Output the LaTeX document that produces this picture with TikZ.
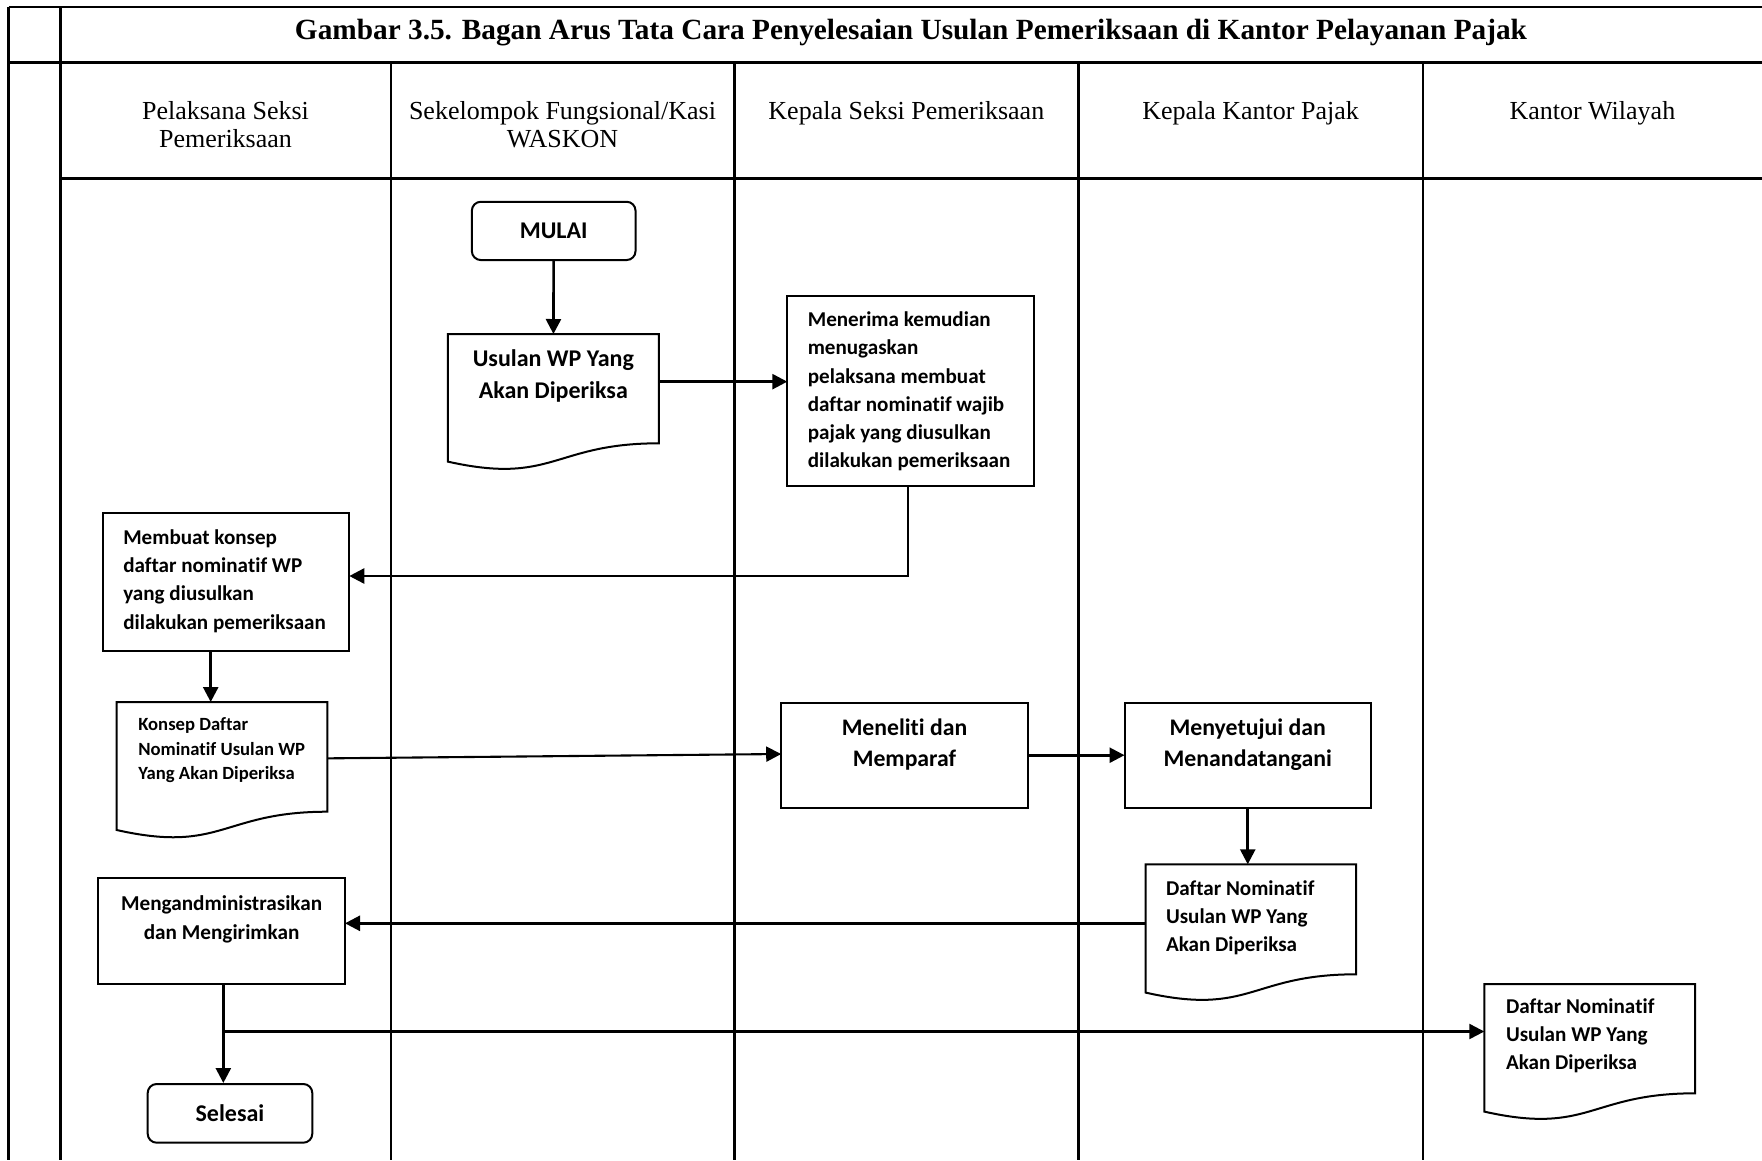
\documentclass[tikz,border=0pt]{standalone}
\usepackage{fontspec}
\setmainfont{Liberation Serif}
\newfontfamily\carlito{Carlito}[Ligatures=NoCommon]
\usetikzlibrary{arrows.meta,calc}

% box content: width, height, first baseline, size, leading, text (centred)
\newcommand\flowc[6]{\parbox[c][#2pt][t]{#1pt}{\fontsize{#4pt}{#5pt}\selectfont\centering\rule{0pt}{#3pt}#6\par}}
% box content: width, height, first baseline, left pad, size, leading, text (left)
\newcommand\flowl[7]{\parbox[c][#2pt][t]{#1pt}{\fontsize{#5pt}{#6pt}\selectfont\raggedright\leftskip=#4pt\rule{0pt}{#3pt}#7\par}}
% lane heading text
\newcommand\headtext[1]{\parbox[t]{320pt}{\fontsize{26pt}{28.7pt}\selectfont\centering #1\par}}
% document symbol drawn round a node
\newcommand\docoutline[1]{\draw[boxline] (#1.north west) -- (#1.north east) -- (#1.south east)
  .. controls (#1.south) and ([yshift=-42pt]#1.south) .. ([yshift=-18.3pt]#1.south west) -- cycle;}

\begin{document}
\begin{tikzpicture}[x=1pt,y=-1pt,
  frame/.style={line width=2.4pt},
  boxline/.style={line width=2pt},
  flowbox/.style={rectangle,draw,boxline,inner sep=0pt,outer sep=0pt,font=\carlito\bfseries},
  docnode/.style={rectangle,inner sep=0pt,outer sep=0pt,font=\carlito\bfseries},
  terminal/.style={rectangle,draw,boxline,rounded corners=9pt,inner sep=0pt,
    font={\carlito\bfseries\fontsize{24pt}{28pt}\selectfont}},
  arr/.style={line width=2.6pt,-{Triangle[length=15pt,width=15pt]}},
  thinarr/.style={line width=2.1pt,-{Triangle[length=15pt,width=15pt]}},
  lanehead/.style={inner sep=0pt,anchor=base}]
\useasboundingbox (0,0) rectangle (1762,1160);

% table frame
\draw[frame] (8.6,7) -- (1762,7);
\draw[frame] (8.6,62.3) -- (1762,62.3);
\draw[frame] (60.3,178.3) -- (1762,178.3);
\draw[frame] (8.6,7) -- (8.6,1160);
\draw[frame] (60.3,7) -- (60.3,1160);
\foreach \x in {390.7,734.3,1078.4,1422.7}
  \draw[frame] (\x,62.3) -- (\x,1160);

% title and lane headings
\node[anchor=base,inner sep=0pt,font={\bfseries\fontsize{29.3pt}{32pt}\selectfont}] (judul) at (911,39.5)
  {Gambar 3.5. Bagan Arus Tata Cara Penyelesaian Usulan Pemeriksaan di Kantor Pelayanan Pajak};
\node[lanehead] (hpel) at (225.5,119) {\headtext{Pelaksana Seksi\\Pemeriksaan}};
\node[lanehead] (hfung) at (562.5,119) {\headtext{Sekelompok Fungsional/Kasi\\WASKON}};
\node[lanehead] (hkasi) at (906.35,119) {\headtext{Kepala Seksi Pemeriksaan}};
\node[lanehead] (hkpp) at (1250.55,119) {\headtext{Kepala Kantor Pajak}};
\node[lanehead] (hkanwil) at (1592.35,119) {\headtext{Kantor Wilayah}};

% flow nodes
\node[terminal,minimum width=163.7pt,minimum height=58.3pt] (mulai) at (553.7,230.9) {MULAI};
\node[docnode] (usulan) at (553.3,388.65)
  {\flowc{211}{109.3}{32.7}{24}{31.7}{Usulan WP Yang\\Akan Diperiksa}};
\node[flowbox] (menerima) at (910.8,390.85)
  {\flowl{247}{189.7}{30.7}{20.5}{21.1}{28.2}{Menerima kemudian\\menugaskan\\pelaksana membuat\\daftar nominatif wajib\\pajak yang diusulkan\\dilakukan pemeriksaan}};
\node[flowbox] (membuat) at (226,582)
  {\flowl{246.6}{137.4}{31}{20.6}{21.1}{28.3}{Membuat konsep\\daftar nominatif WP\\yang diusulkan\\dilakukan pemeriksaan}};
\node[docnode] (konsep) at (222,756.85)
  {\flowl{210.6}{109.7}{28.7}{21.6}{18.65}{24.3}{Konsep Daftar\\Nominatif Usulan WP\\Yang Akan Diperiksa}};
\node[flowbox] (meneliti) at (904.5,755.2)
  {\flowc{246.6}{105}{32.3}{23.7}{31.7}{Meneliti dan\\Memparaf}};
\node[flowbox] (menyetujui) at (1247.75,755.2)
  {\flowc{246.5}{105}{32.3}{23.8}{31.7}{Menyetujui dan\\Menandatangani}};
\node[docnode] (daftarkpp) at (1250.85,919.3)
  {\flowl{210.3}{110}{30.7}{20.3}{21.1}{28.3}{Daftar Nominatif\\Usulan WP Yang\\Akan Diperiksa}};
\node[flowbox] (kirim) at (221.65,931.15)
  {\flowc{246.7}{105.7}{31.7}{21.2}{29}{Mengandministrasikan\\dan Mengirimkan}};
\node[terminal,minimum width=164.6pt,minimum height=58.7pt] (selesai) at (230,1113.35) {Selesai};
\node[docnode] (daftarkanwil) at (1589.65,1038.65)
  {\flowl{210.7}{109.3}{29.3}{21.7}{21.1}{28.3}{Daftar Nominatif\\Usulan WP Yang\\Akan Diperiksa}};

% document outlines
\docoutline{usulan}
\docoutline{konsep}
\docoutline{daftarkpp}
\docoutline{daftarkanwil}

% connectors
\draw[arr] (mulai) -- (usulan);
\draw[arr] ([yshift=7pt]usulan.east) -- ([yshift=7pt]usulan.east -| menerima.west);
\draw[arr] ([xshift=-3pt]menerima.south) |- ([yshift=6pt]membuat.east);
\draw[arr] ([xshift=-11.3pt]konsep.north |- membuat.south) -- ([xshift=-11.3pt]konsep.north);
\draw[thinarr] ([yshift=-1.5pt]konsep.east) -- ([yshift=1.2pt]meneliti.west);
\draw[arr] (meneliti) -- (menyetujui);
\draw[arr] (menyetujui.south) -- (menyetujui.south |- daftarkpp.north);
\draw[arr] ([yshift=-4pt]daftarkpp.west) -- ([yshift=-4pt]daftarkpp.west -| kirim.east);
\draw[arr] ([xshift=1.7pt]kirim.south) -- ([xshift=1.7pt]kirim.south |- selesai.north);
\path ([xshift=1.7pt]kirim.south) ++(0,47.5) coordinate (cabang);
\draw[thinarr,line width=2.3pt] (cabang) -- (cabang -| daftarkanwil.west);
\end{tikzpicture}
\end{document}
